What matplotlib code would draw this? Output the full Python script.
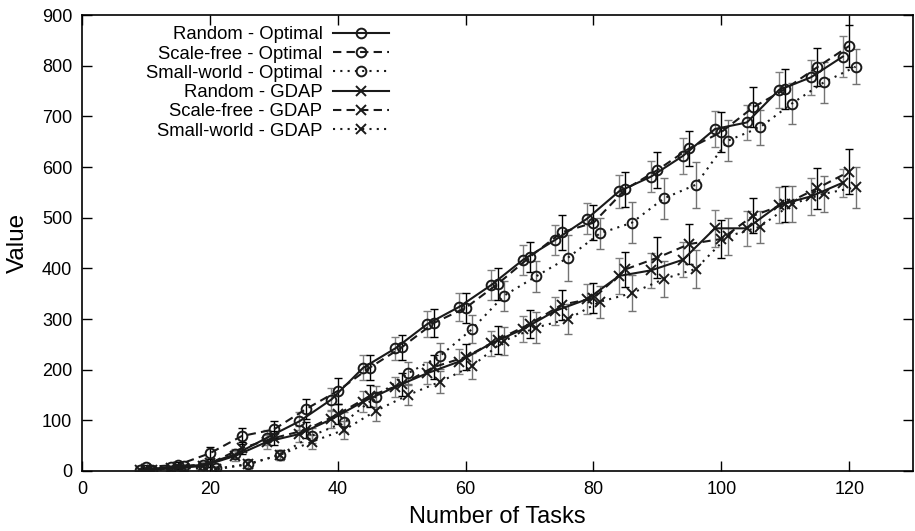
import matplotlib
matplotlib.use("Agg")
import matplotlib.pyplot as plt

plt.rcParams['font.family'] = ['Liberation Sans', 'DejaVu Sans']

# x positions of each topology (shifted by one task so the bars do not overlap)
x_random = [9, 14, 19, 24, 29, 34, 39, 44, 49, 54, 59, 64, 69, 74, 79, 84, 89, 94, 99, 104, 109, 114, 119]
x_scalefree = [10, 15, 20, 25, 30, 35, 40, 45, 50, 55, 60, 65, 70, 75, 80, 85, 90, 95, 100, 105, 110, 115, 120]
x_smallworld = [11, 16, 21, 26, 31, 36, 41, 46, 51, 56, 61, 66, 71, 76, 81, 86, 91, 96, 101, 106, 111, 116, 121]

# Optimal
random_opt = [2, 8, 12, 33, 66, 98, 141, 204, 242, 290, 324, 367, 417, 456, 498, 552, 581, 622, 675, 688, 752, 777, 818]
random_opt_err = [3, 4, 5, 10, 14, 18, 22, 25, 22, 25, 28, 30, 30, 30, 30, 32, 30, 35, 35, 35, 35, 35, 40]
scalefree_opt = [8, 12, 35, 69, 82, 122, 158, 204, 244, 292, 322, 369, 422, 471, 490, 556, 594, 637, 669, 718, 754, 797, 839]
scalefree_opt_err = [4, 5, 12, 15, 16, 20, 25, 25, 25, 28, 30, 32, 30, 35, 35, 35, 35, 35, 40, 40, 40, 38, 42]
smallworld_opt = [2, 9, 5, 13, 32, 70, 96, 147, 193, 227, 280, 346, 384, 421, 469, 490, 538, 565, 652, 678, 725, 767, 798]
smallworld_opt_err = [3, 4, 5, 8, 10, 14, 20, 20, 22, 25, 28, 30, 30, 45, 30, 40, 40, 45, 40, 35, 40, 40, 35]

# GDAP
random_gdap = [1, 5, 10, 30, 58, 73, 102, 137, 166, 193, 216, 252, 280, 316, 339, 385, 396, 417, 479, 479, 525, 542, 569]
random_gdap_err = [2, 4, 6, 10, 14, 15, 18, 20, 20, 22, 25, 25, 25, 28, 30, 35, 35, 35, 36, 35, 35, 36, 28]
scalefree_gdap = [3, 8, 15, 45, 65, 81, 112, 148, 171, 205, 225, 259, 290, 328, 341, 398, 421, 448, 458, 504, 527, 558, 591]
scalefree_gdap_err = [2, 4, 8, 12, 14, 16, 20, 22, 22, 24, 26, 28, 28, 30, 30, 35, 40, 40, 38, 35, 35, 40, 45]
smallworld_gdap = [1, 6, 3, 14, 32, 58, 81, 119, 150, 176, 207, 257, 283, 300, 334, 351, 379, 399, 463, 482, 527, 547, 560]
smallworld_gdap_err = [2, 4, 5, 8, 10, 14, 18, 20, 20, 22, 25, 28, 30, 30, 32, 35, 35, 38, 36, 32, 35, 35, 40]

labels = ['Random - Optimal', 'Scale-free - Optimal', 'Small-world - Optimal',
          'Random - GDAP', 'Scale-free - GDAP', 'Small-world - GDAP']

dashed = (0, (4, 2.5))
dotted = (0, (1, 2.5))

series = [
    (x_random, random_opt, random_opt_err, '-', 'o', '0.5'),
    (x_scalefree, scalefree_opt, scalefree_opt_err, dashed, 'o', 'black'),
    (x_smallworld, smallworld_opt, smallworld_opt_err, dotted, 'o', '0.45'),
    (x_random, random_gdap, random_gdap_err, '-', 'x', '0.5'),
    (x_scalefree, scalefree_gdap, scalefree_gdap_err, dashed, 'x', 'black'),
    (x_smallworld, smallworld_gdap, smallworld_gdap_err, dotted, 'x', '0.45'),
]

fig = plt.figure(figsize=(9.15, 5.31), dpi=100)
ax = fig.add_axes([0.0896, 0.113, 0.9084, 0.8587])

handles = []
for (xs, ys, es, ls, mk, ecol), lab in zip(series, labels):
    ax.errorbar(xs, ys, yerr=es, fmt='none', ecolor=ecol, elinewidth=1.0,
                capsize=2.7, capthick=1.0, zorder=2)
    line, = ax.plot(xs, ys, linestyle=ls, color='#1a1a1a', linewidth=1.5,
                    marker=mk, markersize=7,
                    markerfacecolor='none', markeredgecolor='#1a1a1a',
                    markeredgewidth=1.4, label=lab, zorder=3)
    handles.append(line)

ax.set_xlim(0, 130)
ax.set_ylim(0, 900)
ax.set_xticks(range(0, 121, 20))
ax.set_yticks(range(0, 901, 100))
ax.tick_params(direction='in', length=7, width=1, top=True, right=True,
               labelsize=13, pad=7)
for s in ax.spines.values():
    s.set_linewidth(1.2)

ax.set_xlabel('Number of Tasks', fontsize=17, labelpad=6)
ax.set_ylabel('Value', fontsize=17.5, labelpad=9)

ax.legend(handles=handles, loc='upper right', bbox_to_anchor=(0.383, 1.0),
          markerfirst=False, frameon=False, fontsize=13.3, handlelength=3.0,
          handletextpad=0.6, labelspacing=0.12, borderaxespad=0.22)

fig.savefig('out.png', dpi=100)
